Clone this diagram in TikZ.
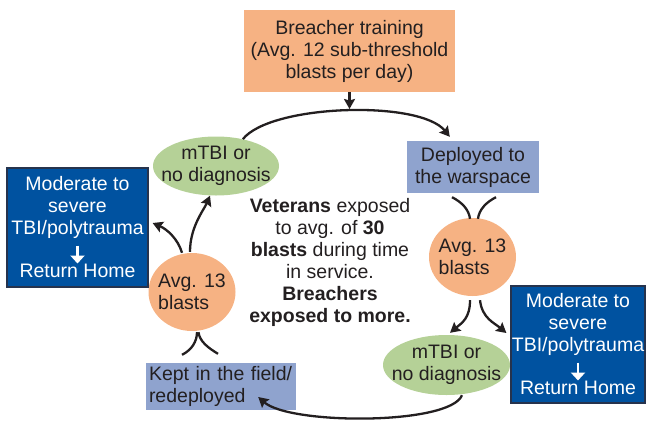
\documentclass[tikz,border=0pt]{standalone}
\usepackage{fontspec}
\setmainfont{Liberation Sans}
\usetikzlibrary{arrows.meta,shapes.geometric,calc}
\definecolor{orng}{HTML}{F6B283}
\definecolor{grn}{HTML}{B5D197}
\definecolor{lav}{HTML}{8FA3CE}
\definecolor{dblue}{HTML}{0052A0}
\definecolor{dborder}{HTML}{26334D}
\definecolor{ink}{HTML}{231F20}
\begin{document}
\begin{tikzpicture}[x=1pt,y=-1pt,
  txt/.style={font=\fontsize{19.5}{22}\selectfont, text=ink, align=center, inner sep=0pt},
  obox/.style={txt, fill=orng},
  lbox/.style={txt, fill=lav},
  bbox/.style={txt, text=white, fill=dblue, draw=dborder, line width=1.2pt},
  gell/.style={ellipse, fill=grn, inner sep=0pt, minimum width=126pt, minimum height=59pt},
  oell/.style={ellipse, fill=orng, inner sep=0pt, minimum width=87pt, minimum height=78pt},
  conn/.style={draw=ink, line width=2.3pt},
  arr/.style={conn, -{Stealth[length=10pt,width=11pt,inset=1.5pt]}},
  warr/.style={draw=white, line width=2.6pt, -{Triangle[length=8pt,width=14pt]}}
]
\useasboundingbox (0,0) rectangle (648,421);

% nodes
\node[obox, minimum width=211pt, minimum height=82pt] (top) at (349.5,51)
  {Breacher training\\(Avg. 12 sub-threshold\\blasts per day)};
\node[lbox, minimum width=132pt, minimum height=52pt] (dep) at (473,167)
  {Deployed to\\the warspace};
\node[gell, label={[txt]center:mTBI or\\no diagnosis}] (lg) at (216,166) {};
\node[oell, label={[txt,align=left]center:Avg. 13\\blasts}] (ro) at (472.5,257) {};
\node[oell, label={[txt,align=left]center:Avg. 13\\blasts}] (lo) at (192,292) {};
\node[gell, minimum width=127pt, minimum height=60pt, label={[txt]center:mTBI or\\no diagnosis}] (rg) at (446.5,365) {};
\node[lbox, align=left, text width=144pt, minimum width=150pt, minimum height=47pt] (kept) at (221,386.5)
  {Kept in the field/\\redeployed};
\node[bbox, minimum width=141pt, minimum height=119pt] (lb) at (77.5,227.5)
  {Moderate to\\severe\\TBI/polytrauma\\[21pt]Return Home};
\node[bbox, minimum width=134pt, minimum height=117pt] (rb) at (578,344.5)
  {Moderate to\\severe\\TBI/polytrauma\\[21pt]Return Home};
\node[txt] (mid) at (330,262.5)
  {\textbf{Veterans} exposed\\to avg. of \textbf{30}\\\textbf{blasts} during time\\in service.\\\textbf{Breachers}\\\textbf{exposed to more.}};

% arrows inside the blue boxes
\draw[warr] ($(lb.center)+(0,18)$) -- ($(lb.center)+(0,36)$);
\draw[warr] ($(rb.center)+(0,18)$) -- ($(rb.center)+(0,36)$);

% connectors
\coordinate (arctop) at (349.5,109);
\draw[arr] (top.south) -- (arctop);
\draw[arr] (lg.45) .. controls +(28,-35) and +(-30,-37) .. ($(dep.north west)+(43,-4)$);
\draw[conn] ($(dep.south)+(-21,4)$) .. controls +(10,5) and +(-1,-9) .. ($(ro.north)+(-2.5,1)$);
\draw[conn] ($(dep.south)+(23,4)$) .. controls +(-10,5) and +(1,-9) .. ($(ro.north)+(5.5,1)$);
\draw[arr] ($(ro.south)+(-2.5,4)$) .. controls +(0,18) and +(12,-10) .. ($(rg.north)+(3.5,-2)$);
\draw[arr] ($(ro.south)+(7.5,4)$) .. controls +(2,18) and +(-12,-10) .. ($(rb.west)+(-4,-11.5)$);
\draw[arr] ($(rg.south)+(15.5,0)$) .. controls +(-12,30) and +(32,28) .. ($(kept.east)+(-38,10.5)$);
\draw[conn] ($(kept.north)+(-39,-8)$) .. controls +(10,-5) and +(0,9) .. ($(lo.south)+(5,1)$);
\draw[conn] ($(kept.north)+(-3,-9)$) .. controls +(-10,-6) and +(1,9) .. ($(lo.south)+(6.5,1)$);
\draw[arr] ($(lo.north)+(-10,0)$) .. controls +(-4,-14) and +(14,6) .. ($(lb.east)+(4,-4.5)$);
\draw[arr] ($(lo.north)+(-2,-1)$) .. controls +(0,-25) and +(-6,14) .. ($(lg.south)+(-6,0)$);
\end{tikzpicture}
\end{document}
